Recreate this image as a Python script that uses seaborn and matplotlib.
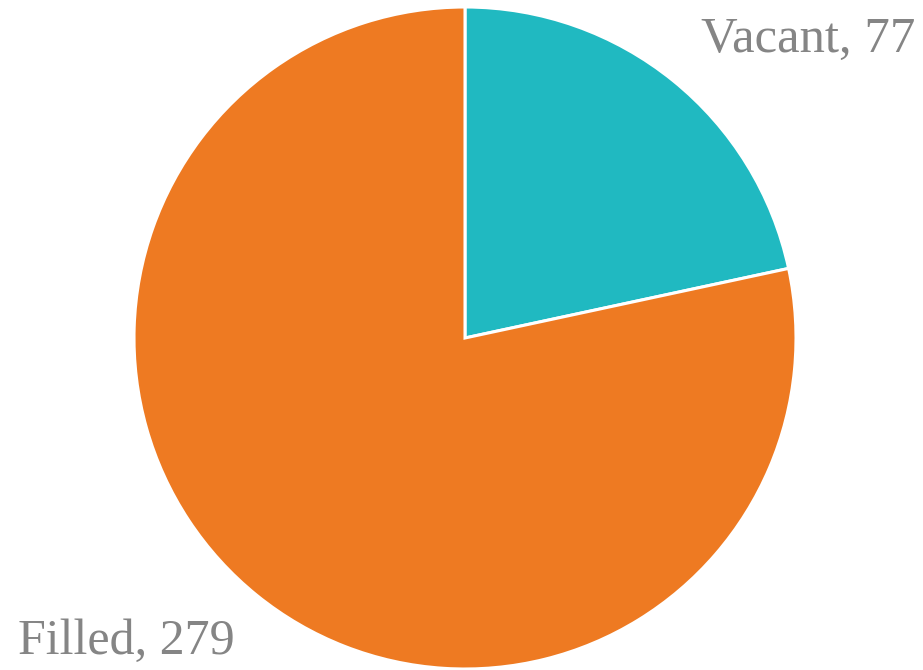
import matplotlib.pyplot as plt
import seaborn as sns

labels = ['Vacant', 'Filled']
values = [77, 279]
colors = ['#20B9C1', '#EE7A22']

sns.set_theme(style='white')
plt.rcParams['font.family'] = ['Liberation Serif', 'DejaVu Serif']

fig = plt.figure(figsize=(9.23, 6.70), dpi=100)
ax = fig.add_axes([134 / 923, 1 / 670, 662 / 923, 662 / 670])
ax.pie(values, colors=colors, startangle=90, counterclock=False,
       wedgeprops=dict(edgecolor='white', linewidth=2.2))
ax.set_xlim(-1, 1)
ax.set_ylim(-1, 1)
ax.set_aspect('equal')
ax.axis('off')

fig.text(915 / 923, 1 - 52 / 670, f'{labels[0]}, {values[0]}', ha='right', va='baseline',
         fontsize=36.5, color='#858585')
fig.text(18 / 923, 1 - 654 / 670, f'{labels[1]}, {values[1]}', ha='left', va='baseline',
         fontsize=36, color='#858585')

fig.savefig('out.png', dpi=100)
